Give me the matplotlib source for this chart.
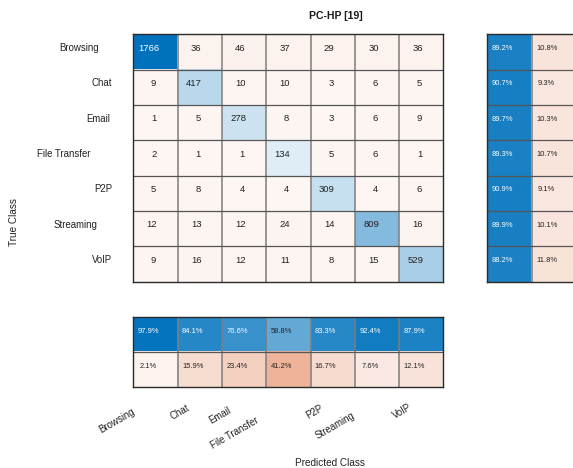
import numpy as np
import matplotlib
matplotlib.use("Agg")
import matplotlib.pyplot as plt
from matplotlib.transforms import blended_transform_factory

plt.rcParams["font.family"] = ["Liberation Sans", "DejaVu Sans"]

# ---- data ----
classes = ["Browsing", "Chat", "Email", "File Transfer", "P2P", "Streaming", "VoIP"]
counts = np.array([
    [1766, 36, 46, 37, 29, 30, 36],
    [9, 417, 10, 10, 3, 6, 5],
    [1, 5, 278, 8, 3, 6, 9],
    [2, 1, 1, 134, 5, 6, 1],
    [5, 8, 4, 4, 309, 4, 6],
    [12, 13, 12, 24, 14, 809, 16],
    [9, 16, 12, 11, 8, 15, 529],
])
title = "PC-HP [19]"

# ---- layout (pixels) ----
W, H = 573, 468
CELL_W, CELL_H = 44.3, 35.35
M_LEFT, M_TOP = 133.3, 34.3
ROW_SUM_LEFT = 487.3
COL_SUM_TOP = 316.7
row_label_right = [99.3, 112.1, 110.3, 90.2, 112.1, 97.2, 112.1]
xtick_anchor = [(136.7, 406.7), (191.7, 403.3), (233.3, 405.0), (260.0, 415.0),
                (325.0, 403.3), (356.7, 410.0), (413.3, 401.7)]

DIAG = np.array([0.0, 0.4471, 0.7412])
OFF = np.array([0.8510, 0.3255, 0.0980])
TXT = "#222222"


def tint(c, a):
    return 1 - a * (1 - c)


def shade(a):
    # never fully white: a faint tint is kept even for tiny values
    return 0.05 + 0.95 * a


def px_axes(left, top, right, bottom):
    return fig.add_axes([left / W, 1 - bottom / H, (right - left) / W, (bottom - top) / H])


def style_grid(ax, nrows, ncols):
    ax.set_xticks([])
    ax.set_yticks([])
    for k in range(1, ncols):
        ax.axvline(k - 0.5, color="#7d7d7d", lw=1.1)
    for k in range(1, nrows):
        ax.axhline(k - 0.5, color="#555555", lw=0.9)
    for s in ax.spines.values():
        s.set_color("#2a2a2a")
        s.set_linewidth(1.0)


fig = plt.figure(figsize=(W / 100, H / 100), dpi=100)
n = len(classes)

# ---- main confusion matrix ----
ax = px_axes(M_LEFT, M_TOP, M_LEFT + n * CELL_W, M_TOP + n * CELL_H)
vmax = counts.max()
rgb = np.zeros((n, n, 3))
alpha = shade(counts / vmax)
for i in range(n):
    for j in range(n):
        rgb[i, j] = tint(DIAG if i == j else OFF, alpha[i, j])
ax.imshow(rgb, extent=(-0.5, n - 0.5, n - 0.5, -0.5), aspect="auto",
          interpolation="nearest")
shift = {1: -0.04, 2: -0.08, 3: -0.13, 4: -0.14}
for i in range(n):
    for j in range(n):
        v = counts[i, j]
        col = "white" if alpha[i, j] > 0.65 else TXT
        ax.text(j + shift[len(str(v))], i - 0.11, str(v), ha="center", va="center",
                fontsize=6.8, color=col)
style_grid(ax, n, n)

tr = blended_transform_factory(fig.transFigure, ax.transData)
for i, name in enumerate(classes):
    ax.text(row_label_right[i] / W, i - 0.11, name, transform=tr, ha="right",
            va="center", fontsize=6.9, color=TXT)

# ---- row summary (recall) ----
recall = np.diag(counts) / counts.sum(axis=1)
axr = px_axes(ROW_SUM_LEFT, M_TOP, ROW_SUM_LEFT + 2 * CELL_W, M_TOP + n * CELL_H)
rgb_r = np.zeros((n, 2, 3))
for i in range(n):
    rgb_r[i, 0] = tint(DIAG, shade(recall[i]))
    rgb_r[i, 1] = tint(OFF, shade(1 - recall[i]))
axr.imshow(rgb_r, extent=(-0.5, 1.5, n - 0.5, -0.5), aspect="auto",
           interpolation="nearest")
for i in range(n):
    for j, p in enumerate([recall[i], 1 - recall[i]]):
        axr.text(j - 0.16, i - 0.1, f"{p * 100:.1f}%", ha="center", va="center",
                 fontsize=5.4, color="white" if p > 0.65 else TXT)
style_grid(axr, n, 2)

# ---- column summary (precision) ----
precision = np.diag(counts) / counts.sum(axis=0)
axc = px_axes(M_LEFT, COL_SUM_TOP, M_LEFT + n * CELL_W, COL_SUM_TOP + 2 * 35.0)
rgb_c = np.zeros((2, n, 3))
for j in range(n):
    rgb_c[0, j] = tint(DIAG, shade(precision[j]))
    rgb_c[1, j] = tint(OFF, shade(1 - precision[j]))
axc.imshow(rgb_c, extent=(-0.5, n - 0.5, 1.5, -0.5), aspect="auto",
           interpolation="nearest")
for j in range(n):
    for i, p in enumerate([precision[j], 1 - precision[j]]):
        axc.text(j - 0.16, i - 0.07, f"{p * 100:.1f}%", ha="center", va="center",
                 fontsize=5.4, color="white" if p > 0.65 else TXT)
style_grid(axc, 2, n)

# ---- predicted-class tick labels ----
for name, (x, y) in zip(classes, xtick_anchor):
    fig.text(x / W, 1 - y / H, name, ha="right", va="top", rotation=30,
             fontsize=6.9, color=TXT)

# ---- titles ----
fig.text(336 / W, 1 - 15.8 / H, title, ha="center", va="center", fontsize=7.6,
         fontweight="bold", color="#1a1a1a")
fig.text(13.7 / W, 1 - 222.5 / H, "True Class", ha="center", va="center",
         rotation=90, fontsize=7.2, color=TXT)
fig.text(329.7 / W, 1 - 463 / H, "Predicted Class", ha="center", va="center",
         fontsize=7.2, color=TXT)

fig.savefig("out.png", dpi=100)
